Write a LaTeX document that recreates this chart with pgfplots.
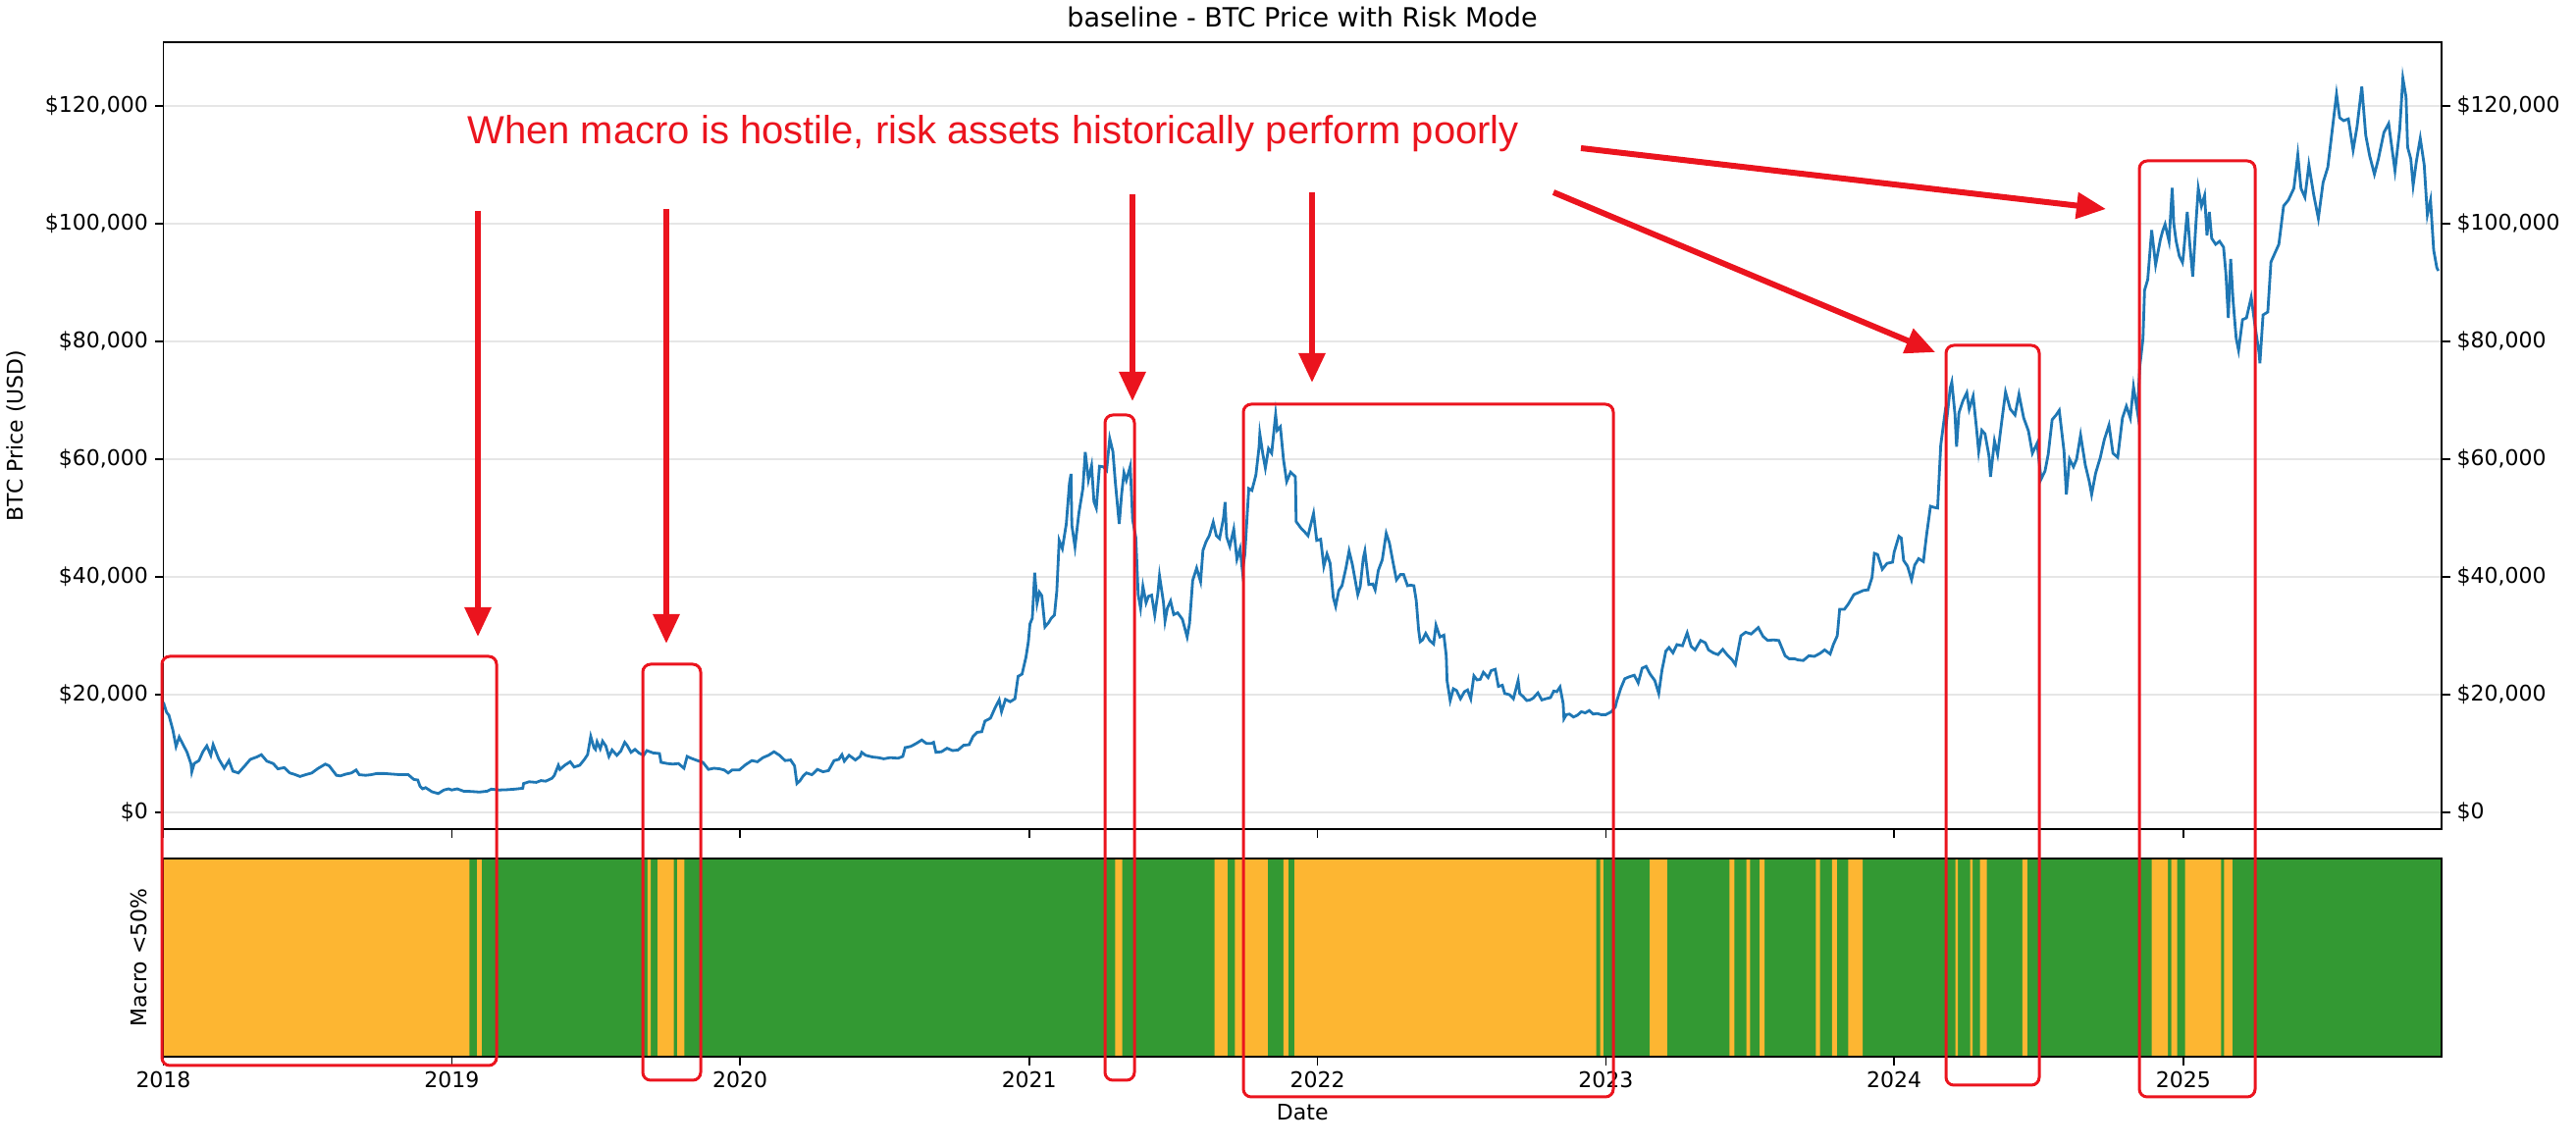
\documentclass[border=0pt]{standalone}
\usepackage{fontspec}
\setmainfont{DejaVu Sans}
\newfontfamily\annotfont{Liberation Sans}
\usepackage{pgfplots}
\pgfplotsset{compat=1.18}
\usepackage{pgfplotstable}
\usetikzlibrary{arrows.meta}
\definecolor{btcblue}{HTML}{1F77B4}
\definecolor{riskgreen}{HTML}{339933}
\definecolor{riskorange}{HTML}{FDB632}
\definecolor{annred}{RGB}{235,20,30}
\definecolor{gridgray}{HTML}{E6E6E6}

% days since 2018-01-01, BTC price (USD)
\pgfplotstableread{
d p
0 18700
4 17000
7 16500
12 14000
16 11200
20 12800
25 11500
30 10200
35 8200
36 6900
39 8300
45 8800
50 10300
55 11300
60 9700
63 11500
70 9100
77 7500
83 8800
88 7000
95 6700
103 7900
110 9000
118 9400
124 9800
131 8700
139 8300
145 7400
153 7600
160 6700
165 6500
173 6100
180 6400
188 6700
195 7400
205 8200
210 7900
219 6300
224 6200
231 6500
238 6700
244 7200
248 6400
256 6300
263 6400
270 6600
280 6600
290 6500
300 6400
310 6400
317 5600
322 5500
325 4400
328 4000
332 4200
340 3500
348 3200
355 3800
361 4000
365 3800
372 4000
380 3600
390 3550
400 3450
410 3600
415 3950
425 3800
435 3850
445 3950
455 4100
456 4900
463 5200
472 5100
478 5400
484 5300
492 5800
495 6300
497 7000
500 8000
502 7300
508 8000
515 8600
520 7700
527 8000
533 9000
537 9800
541 12900
545 11000
547 10700
549 12000
553 10800
556 12100
560 11300
564 9500
568 10600
574 9700
579 10400
584 11900
587 11400
592 10200
597 10700
602 10100
608 9700
612 10500
620 10100
628 10000
630 8500
638 8300
645 8200
652 8300
659 7500
663 9500
668 9200
676 8800
683 8500
690 7300
697 7500
704 7400
710 7200
715 6700
720 7200
729 7200
737 8100
745 8800
752 8600
759 9300
766 9700
773 10300
780 9700
787 8800
794 8900
799 7900
802 4900
806 5400
810 6200
814 6700
821 6400
828 7300
835 6900
842 7100
849 8800
855 9000
859 9800
862 8700
868 9700
876 8900
882 9500
884 10200
889 9700
898 9400
905 9300
912 9100
920 9300
930 9200
936 9500
939 11000
946 11200
953 11700
960 12300
966 11700
972 11700
975 11900
978 10200
985 10300
992 10900
999 10500
1006 10600
1013 11400
1020 11500
1025 12900
1030 13600
1036 13700
1040 15500
1047 16000
1053 17800
1058 19100
1061 17100
1066 19200
1072 18800
1078 19300
1082 23100
1087 23500
1092 26400
1095 29000
1097 32000
1100 33000
1103 40700
1106 35500
1109 37400
1112 36800
1116 31500
1121 32300
1124 33000
1128 33500
1131 37600
1134 46200
1138 44800
1143 49000
1147 55900
1149 57500
1150 48800
1154 45100
1159 50900
1164 55000
1167 61200
1171 56500
1175 58900
1178 52800
1181 51700
1185 58800
1190 58700
1194 58100
1198 63500
1202 61300
1205 56200
1210 49000
1213 54000
1216 57700
1219 56400
1224 58800
1227 49700
1231 46700
1234 37000
1237 34700
1240 38400
1244 35600
1247 36700
1251 36900
1255 33500
1259 37300
1261 40200
1266 35700
1268 32500
1271 34700
1275 35900
1279 33600
1284 33900
1290 32800
1296 29800
1299 32100
1303 39400
1308 41500
1313 39200
1316 44500
1320 46000
1324 47000
1329 49300
1333 47000
1337 46500
1342 50000
1344 52700
1346 46800
1350 45200
1355 48100
1359 43000
1363 44800
1366 41000
1369 43800
1374 55000
1378 54700
1383 57300
1387 62000
1388 64300
1392 60700
1395 58500
1399 61800
1403 61000
1408 67600
1410 64900
1414 65500
1418 59900
1422 56200
1427 57800
1433 57000
1434 49400
1440 48300
1445 47600
1449 47000
1456 50800
1460 46200
1465 46400
1469 41800
1473 43900
1477 42300
1481 36500
1484 35000
1488 37700
1492 38500
1497 41500
1501 44400
1505 42200
1508 40000
1512 37000
1515 38300
1519 43200
1521 44400
1526 38700
1531 38800
1534 37800
1538 41100
1543 42900
1548 47400
1552 45800
1557 42200
1561 39500
1566 40400
1570 40400
1575 38500
1579 38600
1583 38500
1586 36000
1589 31000
1591 29000
1594 29300
1598 30400
1603 29200
1608 28600
1611 31800
1616 29800
1621 30100
1624 26600
1625 22400
1629 19000
1633 21000
1637 20700
1642 19300
1647 20500
1651 20800
1655 19300
1659 23200
1663 22500
1667 22600
1671 23800
1677 22900
1681 24100
1686 24300
1690 21400
1695 21600
1698 20200
1704 20000
1709 19300
1715 22400
1717 20200
1721 19700
1726 19000
1730 19100
1734 19400
1740 20300
1745 19100
1750 19300
1756 19500
1760 20600
1764 20500
1768 21300
1772 18500
1773 15900
1776 16600
1780 16700
1785 16200
1790 16500
1795 17100
1800 16900
1805 17300
1810 16700
1815 16800
1820 16600
1826 16600
1833 17100
1838 17900
1840 19000
1845 21100
1850 22700
1855 23000
1862 23300
1867 22000
1872 24500
1877 24800
1882 23500
1888 22400
1893 20200
1897 24100
1902 27400
1906 28000
1911 27100
1916 28500
1923 28300
1929 30500
1934 28200
1939 27600
1946 29200
1952 28800
1956 27600
1962 27100
1968 26800
1974 27700
1980 26700
1986 25900
1990 25100
1997 30000
2003 30600
2010 30300
2019 31400
2025 29900
2031 29200
2038 29300
2045 29200
2053 26600
2058 26100
2065 26100
2069 25900
2076 25800
2083 26600
2090 26500
2097 27000
2103 27600
2110 26900
2114 28500
2119 30000
2122 34500
2128 34500
2133 35400
2140 37000
2147 37400
2152 37700
2158 37800
2163 39900
2166 44000
2170 43800
2176 41300
2182 42300
2189 42500
2191 44200
2197 46900
2200 46600
2203 42800
2208 41800
2213 39500
2217 42000
2222 43100
2228 42600
2232 47100
2237 52000
2242 51800
2246 51700
2250 62400
2255 67500
2257 66000
2262 72100
2264 73100
2268 67600
2270 62100
2273 67900
2278 69900
2283 71300
2286 68500
2291 70700
2295 65600
2298 61300
2302 64900
2306 64300
2311 60600
2313 57000
2318 63100
2322 60800
2327 66200
2332 71400
2338 68500
2344 67500
2349 71000
2355 67000
2361 64800
2366 61000
2372 62700
2377 56600
2382 58000
2386 60800
2391 66700
2396 67500
2400 68300
2406 61400
2409 54000
2413 60000
2418 58700
2422 60000
2427 64100
2433 59000
2438 56200
2441 54000
2446 57600
2452 60300
2457 63300
2463 65800
2468 61000
2474 60300
2480 67000
2485 69000
2490 67000
2494 72300
2499 68000
2502 75800
2506 80500
2508 88700
2512 90500
2517 98900
2522 93000
2528 97300
2531 98800
2534 99900
2539 97000
2543 106100
2545 100000
2548 97000
2552 94500
2556 93400
2557 94400
2562 102000
2565 96900
2569 91000
2573 100000
2576 106000
2580 103000
2584 104800
2587 98000
2590 102000
2593 97500
2598 96500
2603 97000
2608 96000
2611 91500
2614 84000
2617 94000
2620 87000
2624 80500
2627 78500
2632 83700
2637 84000
2643 87500
2648 82500
2653 78000
2654 76300
2658 84500
2664 85000
2668 93500
2672 94700
2678 96500
2684 103000
2690 104000
2697 106000
2702 111700
2706 106000
2711 104500
2716 110000
2722 105000
2728 100900
2734 107000
2740 109600
2747 117500
2751 122000
2755 118000
2760 117500
2766 117800
2772 112500
2777 116500
2783 123300
2788 115000
2793 111500
2799 108400
2804 111000
2811 115500
2817 117000
2822 112000
2825 109000
2831 116000
2835 124700
2839 121500
2841 113000
2845 111000
2848 106500
2852 110500
2857 114500
2862 110000
2866 101500
2870 104000
2874 95500
2878 92500
2880 92000
}\btcdata

% macro regime: 1 = macro < 50% (orange), 0 = otherwise (green); step starts at d
\pgfplotstableread{
d m
0 1
387.5 0
397 1
403 0
613 1
617 0
625.5 1
646 0
650.5 1
659.5 0
1205 1
1214 0
1330.5 1
1347 0
1356.5 1
1398 0
1418 1
1424 0
1432 1
1814 0
1819 1
1823 0
1881.5 1
1903.5 0
1982.5 1
1988.7 0
2004 1
2008.5 0
2020.7 1
2027 0
2092 1
2097 0
2112.4 1
2118.5 0
2132.7 1
2151.2 0
2268.6 1
2271.6 0
2287.3 1
2290.3 0
2299.6 1
2308.3 0
2353.4 1
2359.6 0
2517.1 1
2537.5 0
2541.9 1
2549.3 0
2559.2 1
2605 0
2608.7 1
2619.2 0
2884 0
}\riskdata

\pgfplotsset{
  myaxis/.style={
    scale only axis,
    width=1160.75pt,
    xmin=0, xmax=2884,
    tick align=outside,
    major tick length=4.3pt,
    axis line style={line width=0.8pt},
    every tick/.style={black, line width=0.8pt},
    ticklabel style={font=\fontsize{11}{13}\selectfont},
    label style={font=\fontsize{11}{13}\selectfont},
    /pgf/number format/assume math mode=true,
  },
  priceaxis/.style={
    myaxis,
    height=401pt,
    ymin=-2833, ymax=130833,
    ytick={0,20000,40000,60000,80000,100000,120000},
    scaled y ticks=false,
    yticklabel={\$\pgfmathprintnumber[fixed,precision=0,1000 sep={,}]{\tick}},
  },
}

\begin{document}
\begin{tikzpicture}
\path[use as bounding box] (0,0) rectangle (1312.5pt,583.5pt);

% price panel
\begin{axis}[priceaxis,
  at={(83.25pt,161pt)}, anchor=south west,
  xtick={0,365,730,1096,1461,1826,2191,2557}, xticklabels={},
  xtick pos=bottom, ytick pos=left,
  ymajorgrids, grid style={gridgray, line width=0.8pt},
  ylabel={BTC Price (USD)},
  ylabel style={at={(axis description cs:-0.0644,0.5)}, anchor=center},
]
\addplot[btcblue, line width=1.4pt] table[x=d, y=p] {\btcdata};
\end{axis}

% right-hand price labels
\begin{axis}[priceaxis,
  at={(83.25pt,161pt)}, anchor=south west,
  axis x line=none, axis y line*=right,
]
\end{axis}

% macro regime panel
\begin{axis}[myaxis,
  at={(83.25pt,45pt)}, anchor=south west,
  height=101pt,
  ymin=0, ymax=1, ytick=\empty,
  xtick={0,365,730,1096,1461,1826,2191,2557},
  xticklabels={2018,2019,2020,2021,2022,2023,2024,2025},
  xtick pos=bottom,
  axis background/.style={fill=riskgreen},
  axis on top,
  xlabel={Date},
  xlabel style={at={(axis description cs:0.5,-0.282)}, anchor=center},
  ylabel={Macro <50\%},
  ylabel style={at={(axis description cs:-0.0106,0.5)}, anchor=center},
]
\addplot[const plot, fill=riskorange, draw=none] table[x=d, y=m] {\riskdata} \closedcycle;
\end{axis}

% annotations in pixel coordinates of the reference
\begin{scope}[x=0.5pt, y=-0.5pt, yshift=583.5pt]
  \node[font=\fontsize{13.5}{16}\selectfont] at (1327,17) {baseline - BTC Price with Risk Mode};
  \node[anchor=base west, inner sep=0pt, text=annred, font=\annotfont\fontsize{20}{24}\selectfont]
    at (476,147) {When macro is hostile, risk assets historically perform poorly};
  \begin{scope}[annred, line width=1.5pt, rounded corners=4pt]
    \draw (165,669) rectangle (506,1086);
    \draw (655,677) rectangle (714,1101);
    \draw (1126,423) rectangle (1156,1101);
    \draw (1267,412) rectangle (1644,1118);
    \draw (1983,352) rectangle (2078,1106);
    \draw (2180,164) rectangle (2298,1118);
  \end{scope}
  \begin{scope}[annred, line width=3pt, -{Triangle[length=15pt,width=13pt]}]
    \draw (487,215) -- (487,649);
    \draw (679,213) -- (679,656);
    \draw (1154,198) -- (1154,409);
    \draw (1337,196) -- (1337,390);
    \draw (1583,196) -- (1972,359);
    \draw (1611,151) -- (2146,213);
  \end{scope}
\end{scope}
\end{tikzpicture}
\end{document}
